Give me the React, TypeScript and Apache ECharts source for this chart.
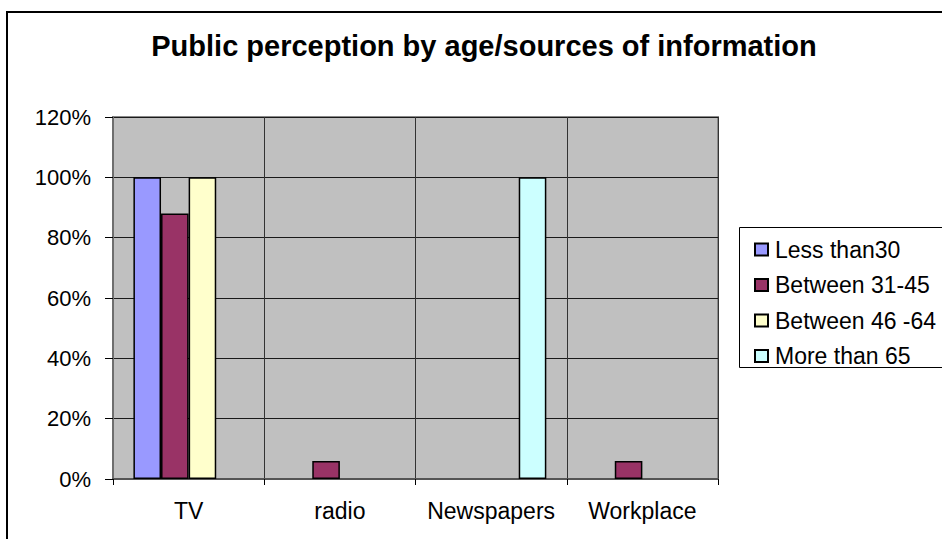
import React, { useEffect, useRef } from "react";
import * as echarts from "echarts";

const categories = ["TV", "radio", "Newspapers", "Workplace"];
const seriesNames = ["Less than30", "Between 31-45", "Between 46 -64", "More than 65"];
const lessThan30 = [100, 0, 0, 0];
const between31to45 = [88, 6, 0, 6];
const between46to64 = [100, 0, 0, 0];
const moreThan65 = [0, 0, 100, 0];
const seriesValues = [lessThan30, between31to45, between46to64, moreThan65];
const colors = ["#9999FF", "#993366", "#FFFFCC", "#CCFFFF"];
const titleText = "Public perception by age/sources of information";

const FONT = "'Liberation Sans', Arial, sans-serif";

export default function App() {
  const ref = useRef<HTMLDivElement>(null);
  useEffect(() => {
    if (!ref.current) return;
    const chart = echarts.init(ref.current, null, { renderer: "svg" });
    chart.setOption({
      animation: false,
      backgroundColor: "#ffffff",
      textStyle: { fontFamily: FONT, color: "#000" },
      graphic: [
        {
          type: "rect",
          shape: { x: 7, y: 12, width: 1000, height: 600 },
          style: { fill: "none", stroke: "#000", lineWidth: 2 },
          z: 0,
        },
        {
          type: "text",
          x: 484,
          y: 46,
          style: {
            text: titleText,
            fontFamily: FONT,
            fontSize: 29,
            fontWeight: "bold",
            fill: "#000",
            textAlign: "center",
            textVerticalAlign: "middle",
          },
        },
        {
          type: "rect",
          shape: { x: 739.5, y: 227.5, width: 260, height: 140 },
          style: { fill: "#fff", stroke: "#000", lineWidth: 1 },
          z: 0,
        },
      ],
      legend: {
        orient: "vertical",
        left: 749,
        top: 233,
        itemWidth: 13,
        itemHeight: 12,
        itemGap: 12.5,
        icon: "rect",
        data: seriesNames,
        textStyle: { fontFamily: FONT, fontSize: 23, color: "#000", padding: [0, 0, 0, 2] },
        z: 5,
      },
      grid: {
        left: 113,
        top: 117,
        width: 605,
        height: 362,
        show: true,
        backgroundColor: "#C0C0C0",
        borderColor: "#8a8a8a",
        borderWidth: 2,
      },
      xAxis: {
        type: "category",
        data: categories,
        boundaryGap: true,
        axisLine: { show: true, lineStyle: { color: "#555", width: 2 } },
        axisTick: { show: true, interval: 0, length: 6, lineStyle: { color: "#000" } },
        axisLabel: { fontFamily: FONT, fontSize: 23, color: "#000", margin: 20, interval: 0 },
        splitLine: { show: true, interval: 0, lineStyle: { color: "#333", width: 1 } },
      },
      yAxis: {
        type: "value",
        min: 0,
        max: 120,
        interval: 20,
        axisLine: { show: true, lineStyle: { color: "#6e6e6e", width: 2 } },
        axisTick: { show: true, length: 8, lineStyle: { color: "#000" } },
        axisLabel: { fontFamily: FONT, fontSize: 22, color: "#000", margin: 22, formatter: "{value}%" },
        splitLine: { show: true, lineStyle: { color: "#1a1a1a", width: 1 } },
      },
      series: seriesNames.map((name, i) => ({
        name,
        type: "bar",
        barGap: "0%",
        barCategoryGap: "27%",
        data: seriesValues[i].map((v) => (v === 0 ? null : v)),
        itemStyle: { color: colors[i], borderColor: "#000", borderWidth: 1.5 },
      })),
    });
    return () => chart.dispose();
  }, []);
  return (
    <div
      ref={ref}
      style={{ position: "absolute", left: 0, top: 0, width: 942, height: 539 }}
    />
  );
}
